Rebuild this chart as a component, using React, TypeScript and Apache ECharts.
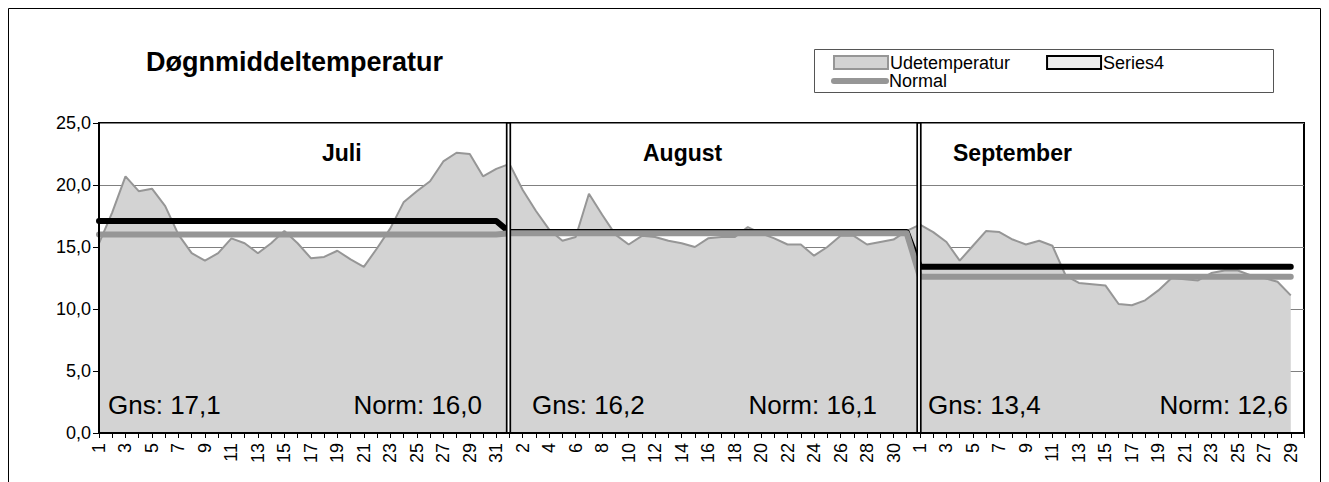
import React, { useEffect, useRef } from "react";
import * as echarts from "echarts";

// ---- data ----
const monthNames = ["Juli", "August", "September"];
const monthDays = [31, 31, 30];
const udeJuli = [15.3, 17.8, 20.7, 19.5, 19.7, 18.3, 16.0, 14.5, 13.9, 14.5, 15.7, 15.3, 14.5, 15.3, 16.3, 15.3, 14.1, 14.2, 14.7, 14.0, 13.4, 14.9, 16.5, 18.6, 19.5, 20.3, 21.9, 22.6, 22.5, 20.7, 21.3];
const udeAugust = [21.7, 19.6, 17.9, 16.4, 15.5, 15.8, 19.3, 17.6, 16.0, 15.2, 15.9, 15.8, 15.5, 15.3, 15.0, 15.7, 15.8, 15.8, 16.6, 16.1, 15.7, 15.2, 15.2, 14.3, 15.0, 15.9, 15.9, 15.2, 15.4, 15.6, 16.3];
const udeSeptember: (number | null)[] = [16.8, 16.2, 15.4, 13.9, 15.1, 16.3, 16.2, 15.6, 15.2, 15.5, 15.1, 12.7, 12.1, 12.0, 11.9, 10.4, 10.3, 10.7, 11.5, 12.5, 12.4, 12.3, 12.9, 13.1, 13.1, 12.7, 12.5, 12.2, 11.1, null];
const gnsValues = [17.1, 16.2, 13.4];
const normValues = [16.0, 16.1, 12.6];
const yTicks = [0, 5, 10, 15, 20, 25];

// ---- layout (annotation positions, px) ----
const FONT = "'Liberation Sans', Arial, sans-serif";
const monthLabelPos = [[322, 153], [643, 153], [953, 153]];
const gnsPos = [[108, 405], [532, 405], [928, 405]];
const normRight = [[482, 405], [877, 405], [1288, 405]];

const fmt = (v: number) => v.toFixed(1).replace(".", ",");

export default function App() {
  const ref = useRef<HTMLDivElement>(null);
  useEffect(() => {
    const chart = echarts.init(ref.current!, null, { renderer: "svg" });
    const monthly = [udeJuli, udeAugust, udeSeptember];
    const categories: string[] = [];
    const ude: (number | null)[] = [];
    const gns: (number | null)[] = [];
    const norm: (number | null)[] = [];
    const monthStarts: number[] = [];
    monthDays.forEach((n, m) => {
      monthStarts.push(categories.length);
      for (let d = 0; d < n; d++) {
        categories.push(`${d + 1}/${m}`);
        const v = monthly[m][d];
        const has = v !== null && v !== undefined;
        ude.push(has ? (v as number) : null);
        gns.push(has ? gnsValues[m] : null);
        norm.push(has ? normValues[m] : null);
      }
    });
    const separators = monthStarts.slice(1).map((i) => [i, 0]);

    const graphic: any[] = [
      { type: "rect", shape: { x: 8.5, y: 8.5, width: 1312, height: 600 }, style: { fill: "none", stroke: "#000", lineWidth: 1 }, silent: true },
      { type: "rect", shape: { x: 814.5, y: 49.5, width: 459, height: 43 }, style: { fill: "none", stroke: "#555", lineWidth: 1 }, silent: true },
      { type: "text", x: 146, y: 61.5, style: { text: "Døgnmiddeltemperatur", font: `bold 27px ${FONT}`, fill: "#000", textVerticalAlign: "middle" } },
    ];
    monthNames.forEach((name, m) => {
      graphic.push({ type: "text", x: monthLabelPos[m][0], y: monthLabelPos[m][1], z: 20, style: { text: name, font: `bold 23px ${FONT}`, fill: "#000", textVerticalAlign: "middle" } });
      graphic.push({ type: "text", x: gnsPos[m][0], y: gnsPos[m][1], z: 20, style: { text: `Gns: ${fmt(gnsValues[m])}`, font: `26px ${FONT}`, fill: "#000", textVerticalAlign: "middle" } });
      graphic.push({ type: "text", x: normRight[m][0], y: normRight[m][1], z: 20, style: { text: `Norm: ${fmt(normValues[m])}`, font: `26px ${FONT}`, fill: "#000", textAlign: "right", textVerticalAlign: "middle" } });
    });

    chart.setOption({
      animation: false,
      textStyle: { fontFamily: FONT },
      grid: { left: 99, right: 25, top: 123, bottom: 49, show: true, borderColor: "#000", borderWidth: 2, backgroundColor: "transparent" },
      legend: [
        {
          left: 833, top: 53.5, padding: 0, itemWidth: 54, itemHeight: 13, itemGap: 36, selectedMode: false,
          textStyle: { fontSize: 18, lineHeight: 17, color: "#000", fontFamily: FONT, padding: [0, 0, 0, -3] },
          data: [
            { name: "Udetemperatur", icon: "rect", itemStyle: { color: "#d3d3d3", borderColor: "#969696", borderWidth: 2 } },
            { name: "Series4", icon: "rect", itemStyle: { color: "#eeeeee", borderColor: "#000", borderWidth: 2 } },
          ],
        },
        {
          left: 831, top: 72, padding: 0, itemWidth: 58, itemHeight: 6, selectedMode: false,
          textStyle: { fontSize: 18, lineHeight: 17, color: "#000", fontFamily: FONT, padding: [0, 0, 0, -5] },
          data: [{ name: "Normal", icon: "path://M3,0 L55,0 A3,3 0 0 1 55,6 L3,6 A3,3 0 0 1 3,0 Z", itemStyle: { color: "#969696" } }],
        },
      ],
      xAxis: {
        type: "category",
        data: categories,
        boundaryGap: false,
        z: 10,
        axisLine: { show: true, lineStyle: { color: "#000", width: 2 } },
        axisTick: { show: true, interval: 0, length: 5, lineStyle: { color: "#000", width: 1 } },
        axisLabel: { interval: 1, rotate: 90, margin: 10, fontSize: 18, color: "#000", fontFamily: FONT, formatter: (v: string) => v.split("/")[0] },
        splitLine: { show: false },
      },
      yAxis: [
        {
          type: "value", min: yTicks[0], max: yTicks[yTicks.length - 1], interval: 5,
          axisLine: { show: false }, axisTick: { show: false }, axisLabel: { show: false },
          splitLine: { show: true, lineStyle: { color: "#808080", width: 1 } },
        },
        {
          type: "value", min: yTicks[0], max: yTicks[yTicks.length - 1], interval: 5, position: "left", z: 10,
          axisLine: { show: true, lineStyle: { color: "#000", width: 2 } },
          axisTick: { show: true, length: 6, lineStyle: { color: "#000", width: 1 } },
          axisLabel: { fontSize: 18, color: "#000", margin: 8, fontFamily: FONT, formatter: (v: number) => fmt(v) },
          splitLine: { show: false },
        },
      ],
      series: [
        {
          name: "Udetemperatur", type: "line", data: ude, symbol: "none", z: 2,
          lineStyle: { color: "#969696", width: 2 },
          areaStyle: { color: "#d3d3d3", opacity: 1 },
          itemStyle: { color: "#d3d3d3" },
        },
        {
          name: "Series4", type: "line", data: gns, symbol: "none", z: 3,
          lineStyle: { color: "#000", width: 6, cap: "round", join: "round" },
          itemStyle: { color: "#000" },
        },
        {
          name: "Normal", type: "line", data: norm, symbol: "none", z: 4,
          lineStyle: { color: "#969696", width: 6, cap: "round", join: "round" },
          itemStyle: { color: "#969696" },
        },
        {
          type: "custom", z: 6, silent: true, data: separators, encode: { x: 0, y: 1 },
          renderItem: (_p: any, api: any) => {
            const idx = api.value(0);
            const top = api.coord([idx, yTicks[yTicks.length - 1]]);
            const bot = api.coord([idx, yTicks[0]]);
            return {
              type: "rect",
              shape: { x: top[0] - 2.8, y: top[1], width: 3.6, height: bot[1] - top[1] },
              style: { fill: "#fff", stroke: "#000", lineWidth: 1.7 },
            };
          },
        },
      ],
      graphic,
    });
    return () => chart.dispose();
  }, []);
  return <div ref={ref} style={{ position: "absolute", left: 0, top: 0, width: 1329, height: 482 }} />;
}
